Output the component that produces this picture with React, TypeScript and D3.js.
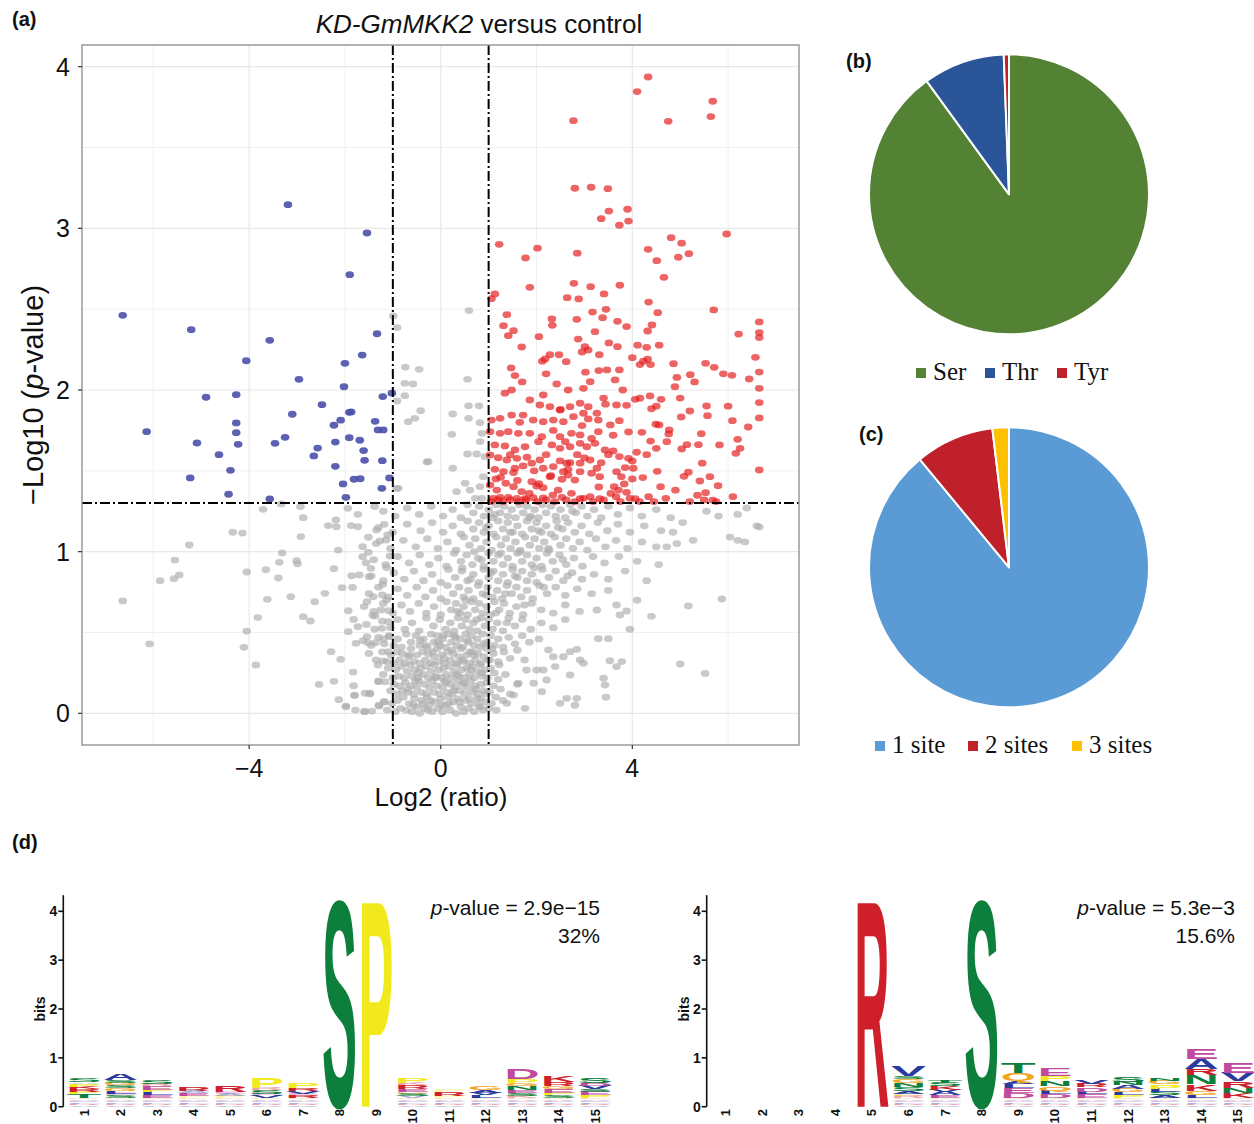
import React from 'react';
import * as d3 from 'd3';

// ---------------- Volcano data ----------------
const X_TICKS = [-4, 0, 4];
const X_MINOR = [-6, -2, 2, 6];
const Y_TICKS = [0, 1, 2, 3, 4];
const Y_MINOR = [0.5, 1.5, 2.5, 3.5];
const FC_CUT = 1;
const P_CUT = 1.301;

const downReg: [number, number][] = [
  [-6.64, 2.462], [-5.21, 2.373], [-3.19, 3.146], [-1.54, 2.971], [-1.90, 2.713], [-3.57, 2.307],
  [-4.06, 2.181], [-2.00, 2.165], [-1.64, 2.216], [-1.33, 2.348], [-2.96, 2.066], [-2.02, 2.020],
  [-4.90, 1.955], [-4.27, 1.971], [-1.21, 1.959], [-1.02, 1.980], [-2.48, 1.909], [-3.10, 1.850],
  [-1.91, 1.862], [-1.87, 1.864], [-6.14, 1.742], [-4.27, 1.796], [-4.27, 1.736], [-2.23, 1.782],
  [-2.09, 1.813], [-1.37, 1.806], [-1.31, 1.753], [-5.09, 1.672], [-4.23, 1.664], [-3.46, 1.670],
  [-3.25, 1.707], [-2.20, 1.678], [-1.91, 1.705], [-1.69, 1.689], [-1.61, 1.625], [-1.59, 1.565],
  [-1.22, 1.563], [-4.63, 1.600], [-2.57, 1.641], [-2.65, 1.592], [-2.20, 1.528], [-4.39, 1.503],
  [-5.23, 1.456], [-1.81, 1.448], [-1.68, 1.451], [-1.07, 1.456], [-2.04, 1.419], [-4.43, 1.355],
  [-3.57, 1.326], [-1.98, 1.336], [-1.23, 1.392], [-1.20, 1.753],
];

const upReg: [number, number][] = [
  [4.33, 3.936], [4.10, 3.846], [5.68, 3.786], [5.64, 3.691], [4.75, 3.662], [2.77, 3.666],
  [2.80, 3.248], [3.14, 3.254], [3.49, 3.245], [3.51, 3.107], [3.90, 3.118], [3.35, 3.060],
  [3.73, 3.019], [3.92, 3.045], [5.97, 2.965], [4.81, 2.942], [5.03, 2.908], [4.33, 2.870],
  [4.96, 2.821], [5.18, 2.843], [4.51, 2.800], [4.66, 2.697], [1.22, 2.901], [2.02, 2.877],
  [1.77, 2.817], [2.85, 2.846], [2.78, 2.660], [3.13, 2.639], [3.74, 2.648], [3.41, 2.594],
  [1.86, 2.635], [1.13, 2.594], [1.06, 2.565], [2.64, 2.571], [2.88, 2.563], [4.34, 2.544],
  [5.70, 2.495], [3.17, 2.482], [3.45, 2.499], [3.38, 2.447], [4.53, 2.478], [1.38, 2.466],
  [2.32, 2.439], [2.84, 2.437], [3.69, 2.425], [1.31, 2.398], [2.33, 2.400], [3.88, 2.392],
  [4.41, 2.402], [6.65, 2.421], [1.52, 2.367], [1.41, 2.336], [2.05, 2.330], [3.22, 2.361],
  [4.32, 2.365], [6.22, 2.346], [6.65, 2.355], [6.65, 2.324], [2.87, 2.315], [1.69, 2.266],
  [3.01, 2.268], [2.95, 2.235], [3.08, 2.247], [3.51, 2.291], [3.69, 2.268], [4.11, 2.277],
  [4.30, 2.264], [4.56, 2.277], [3.31, 2.218], [2.28, 2.218], [2.47, 2.218], [2.18, 2.192],
  [2.12, 2.178], [2.62, 2.175], [4.23, 2.178], [4.32, 2.190], [4.16, 2.157], [4.38, 2.157],
  [4.86, 2.163], [5.53, 2.165], [5.71, 2.140], [6.57, 2.202], [1.47, 2.136], [3.02, 2.110],
  [3.47, 2.124], [3.73, 2.124], [6.65, 2.111], [1.55, 2.089], [5.21, 2.095], [4.93, 2.078],
  [6.08, 2.091], [6.44, 2.068],
  [6.65, 2.010], [6.65, 1.922], [6.65, 1.827], [6.65, 1.505], [6.42, 1.771], [6.09, 1.810],
  [6.20, 1.695], [6.25, 1.639], [6.16, 1.608], [5.82, 1.660], [5.55, 1.901], [5.57, 1.841],
  [5.20, 1.870], [5.02, 1.833], [5.44, 1.730], [5.38, 1.662], [5.14, 1.662], [5.03, 1.635],
  [5.46, 1.547], [5.17, 1.491], [5.08, 1.466], [5.62, 1.464], [5.41, 1.437], [5.79, 1.408],
  [5.36, 1.349], [5.53, 1.365], [5.68, 1.318], [4.77, 1.753], [4.76, 1.728], [4.72, 1.680],
  [4.49, 1.788], [4.56, 1.784], [4.40, 1.884], [4.60, 1.942], [4.37, 1.963], [4.06, 1.942],
  [4.20, 1.738], [4.38, 1.684], [4.50, 1.639], [4.09, 1.615], [4.02, 1.516], [4.22, 1.458],
  [4.52, 1.497], [4.59, 1.402], [4.34, 1.340], [4.06, 1.328], [3.88, 1.905], [3.67, 1.907],
  [3.44, 1.912], [3.73, 1.810], [3.92, 1.740], [3.54, 1.784], [3.29, 1.814], [3.08, 1.821],
  [3.60, 1.623], [3.73, 1.588], [3.92, 1.577], [4.00, 1.561], [3.67, 1.495], [3.77, 1.464],
  [3.62, 1.402], [3.71, 1.381], [3.83, 1.419], [3.88, 1.367], [3.66, 1.340], [3.32, 1.328],
  [3.12, 1.340], [2.91, 1.328], [2.73, 1.361], [2.53, 1.336], [2.34, 1.350], [2.14, 1.332],
  [1.93, 1.334], [1.76, 1.328], [1.59, 1.330], [1.41, 1.336], [1.24, 1.336], [1.10, 1.330],
  [1.03, 1.412], [1.17, 1.381], [1.36, 1.423], [1.52, 1.402], [1.69, 1.371], [1.90, 1.433],
  [2.00, 1.406], [2.14, 1.396], [2.28, 1.464], [2.53, 1.448], [2.66, 1.474], [2.80, 1.443],
  [2.91, 1.495], [3.15, 1.485], [3.32, 1.464], [2.56, 1.495], [2.49, 1.561], [2.63, 1.547],
  [2.66, 1.509], [2.35, 1.526], [2.14, 1.516], [2.07, 1.567], [1.90, 1.547], [1.72, 1.530],
  [1.55, 1.516], [1.52, 1.489], [1.31, 1.495], [1.13, 1.509], [1.03, 1.598], [1.20, 1.581],
  [1.38, 1.567], [1.59, 1.577], [1.80, 1.584], [1.13, 1.660], [1.34, 1.654], [1.55, 1.629],
  [1.76, 1.649], [2.04, 1.680], [2.32, 1.660], [2.49, 1.639], [2.70, 1.649], [2.91, 1.670],
  [3.05, 1.649], [3.22, 1.670], [3.43, 1.629], [3.12, 1.567], [3.26, 1.516], [2.91, 1.547],
  [1.03, 1.742], [1.24, 1.732], [1.41, 1.742], [1.62, 1.732], [1.86, 1.732], [2.11, 1.711],
  [2.49, 1.711], [2.73, 1.732], [2.91, 1.722], [3.29, 1.742], [1.06, 1.814], [1.24, 1.825],
  [1.48, 1.845], [1.72, 1.845], [1.93, 1.814], [2.14, 1.804], [2.35, 1.814], [2.56, 1.804],
  [2.77, 1.835], [2.98, 1.856], [3.26, 1.856], [2.07, 1.907], [2.28, 1.897], [2.49, 1.876],
  [2.70, 1.897], [2.91, 1.918], [3.08, 1.897], [1.34, 1.980], [1.48, 2.000], [1.86, 1.938],
  [2.14, 1.969], [2.42, 2.037], [2.66, 2.000], [2.98, 2.010], [3.12, 2.051], [3.64, 2.062],
  [4.16, 1.949], [4.89, 2.020],
  [1.05, 1.31], [1.20, 1.32], [1.30, 1.31], [1.45, 1.32], [1.62, 1.31], [1.78, 1.32], [1.85, 1.36],
  [2.02, 1.31], [2.20, 1.32], [2.38, 1.31], [2.45, 1.38], [2.62, 1.32], [2.80, 1.31], [2.98, 1.33],
  [3.18, 1.31], [3.40, 1.32], [3.55, 1.36], [3.75, 1.31], [3.95, 1.33], [4.15, 1.31], [4.45, 1.31],
  [4.70, 1.33], [4.90, 1.38], [5.20, 1.31], [5.50, 1.32], [5.75, 1.31], [6.10, 1.34],
  [1.25, 1.46], [1.60, 1.44], [1.95, 1.50], [2.30, 1.47], [2.70, 1.55], [2.85, 1.60], [3.00, 1.58],
  [3.35, 1.55], [3.50, 1.60], [3.85, 1.52], [2.20, 1.60], [1.45, 1.60], [2.60, 1.68], [3.15, 1.70],
  [3.60, 1.72], [2.95, 1.78], [2.35, 1.75], [1.65, 1.80], [4.30, 1.60], [4.00, 1.45], [3.30, 1.40],
  [2.05, 1.42], [1.15, 1.45], [2.50, 1.88], [3.40, 1.95], [3.80, 2.00], [4.50, 1.90], [1.70, 2.05],
  [2.20, 2.10], [3.30, 2.12], [4.00, 2.20], [5.00, 1.95], [5.30, 2.05], [5.90, 2.10], [6.00, 1.90],
];

const notSig: [number, number][] = [
  // left sparse arm
  [-6.64, 0.695], [-6.08, 0.429], [-5.86, 0.820], [-5.57, 0.833], [-5.46, 0.856], [-5.55, 0.948],
  [-5.25, 1.041], [-4.34, 1.120], [-4.14, 1.115], [-4.05, 0.874], [-4.05, 0.509], [-4.11, 0.408],
  [-3.86, 0.299], [-3.82, 0.592], [-3.62, 0.705], [-3.65, 0.888], [-3.71, 1.262], [-3.39, 0.837],
  [-3.37, 0.934], [-3.31, 0.992], [-3.33, 1.295], [-3.13, 0.721], [-3.01, 0.944], [-2.99, 0.925],
  [-2.92, 1.093], [-2.93, 1.278], [-2.87, 1.210], [-2.87, 0.598], [-2.72, 0.571], [-2.63, 0.690],
  [-2.54, 0.179], [-2.42, 0.742], [-2.35, 1.161], [-2.23, 0.198], [-2.23, 0.895], [-2.19, 1.196],
  [-2.18, 1.154], [-2.29, 0.381], [-2.14, 1.010], [-2.13, 0.084], [-2.09, 0.334], [-2.06, 0.777],
  [-1.98, 0.045], [-1.94, 1.268], [-1.93, 0.635], [-1.93, 0.505], [-1.87, 1.161], [-1.86, 0.851],
  [-1.84, 0.779], [-1.82, 0.581], [-1.83, 0.255], [-1.82, 0.171], [-1.80, 0.113], [-1.78, 0.020],
  [-1.77, 0.433], [-1.73, 1.231], [-1.73, 0.536], [-1.73, 1.154], [-1.70, 0.856], [-1.63, 1.031],
  [-1.63, 0.969], [-1.59, 0.012], [-1.58, 0.124], [-1.56, 0.932], [-1.54, 0.690], [-1.54, 0.474],
  [-1.52, 0.437], [-1.51, 1.089], [-1.51, 0.996], [-1.50, 0.845], [-1.48, 0.124], [-1.46, 0.897],
  [-1.44, 0.014], [-1.42, 0.606], [-1.41, 0.721], [-1.38, 1.278], [-1.37, 0.602], [-1.36, 0.437],
  [-1.34, 1.134], [-1.31, 0.299], [-1.30, 0.196], [-1.29, 0.045], [-1.27, 1.066], [-1.25, 0.639],
  [-1.23, 0.526], [-1.22, 0.732], [-1.21, 0.798], [-1.20, 0.460], [-1.20, 0.324], [-1.18, 1.169],
  [-1.18, 0.072], [-1.16, 0.196], [-1.14, 1.072], [-1.13, 0.901], [-1.13, 0.701], [-1.11, 1.103],
  [-1.09, 0.567], [-1.09, 0.381], [-1.09, 0.635], [-1.07, 0.474], [-1.06, 0.973],
  // above threshold but small fold change
  [-0.91, 1.932], [-0.75, 1.965], [-0.68, 1.804], [-0.54, 1.825], [-0.89, 1.392], [-0.75, 2.041],
  [-0.99, 2.458], [-0.91, 2.386], [-0.74, 2.142], [-0.45, 2.128], [0.59, 2.491], [0.56, 2.066],
  [-0.58, 2.037], [-0.42, 1.872], [0.25, 1.852], [0.58, 1.902], [0.80, 1.902], [0.58, 1.825],
  [0.82, 1.798], [0.23, 1.726], [0.86, 1.732], [-0.26, 1.557], [0.25, 1.516], [0.56, 1.604],
  [0.82, 1.681], [0.75, 1.604], [-0.92, 1.392], [0.82, 1.402], [0.61, 1.381], [0.33, 1.371],
  [0.86, 1.330], [0.72, 1.330], [0.51, 1.423], [0.89, 1.464], [0.92, 1.588], [-0.29, 1.555],
  // right sparse arm
  [2.49, 0.062], [2.63, 0.093], [2.84, 0.093], [1.76, 0.031], [1.94, 0.186], [2.11, 0.134],
  [2.00, 0.268], [2.21, 0.206], [2.39, 0.289], [2.70, 0.237], [2.98, 0.310], [3.40, 0.217],
  [3.43, 0.175], [3.53, 0.325], [3.67, 0.289], [3.78, 0.320], [5.00, 0.305], [5.52, 0.247],
  [5.87, 0.707], [5.17, 0.664], [3.88, 0.633], [3.67, 0.670], [3.74, 0.608], [3.26, 0.639],
  [3.50, 0.462], [3.29, 0.462], [2.84, 0.396], [2.91, 0.330], [2.70, 0.381], [2.56, 0.350],
  [2.35, 0.350], [2.25, 0.392], [2.14, 0.268], [1.79, 0.268], [1.62, 0.186], [1.52, 0.113],
  [1.38, 0.062], [2.80, 0.050], [3.45, 0.100], [6.65, 1.152], [6.04, 1.090], [6.35, 1.060],
  [5.27, 1.070], [4.93, 1.050], [4.72, 1.030], [5.55, 1.250], [6.39, 1.270], [6.60, 1.160],
  [6.20, 1.070], [4.30, 0.820], [4.55, 0.920], [4.10, 0.700], [4.40, 0.600], [3.95, 0.520],
  [4.85, 1.120], [5.05, 1.180], [5.80, 1.220], [6.20, 1.230],
  // dense cloud, bottom to top
  [-1.98, 0.04], [-1.80, 0.11], [-1.59, 0.01], [-1.48, 0.12], [-1.29, 0.05], [-1.18, 0.07],
  [-1.12, 0.02], [-1.02, 0.06], [-0.95, 0.01], [-0.90, 0.08], [-0.84, 0.03], [-0.78, 0.10],
  [-0.72, 0.02], [-0.66, 0.06], [-0.60, 0.01], [-0.55, 0.09], [-0.50, 0.04], [-0.44, 0.00],
  [-0.40, 0.08], [-0.34, 0.03], [-0.28, 0.10], [-0.24, 0.05], [-0.18, 0.01], [-0.12, 0.07],
  [-0.06, 0.03], [0.00, 0.09], [0.04, 0.01], [0.10, 0.05], [0.16, 0.10], [0.20, 0.02],
  [0.26, 0.07], [0.32, 0.00], [0.36, 0.09], [0.42, 0.04], [0.48, 0.01], [0.52, 0.08],
  [0.58, 0.03], [0.64, 0.06], [0.70, 0.01], [0.76, 0.09], [0.82, 0.04], [0.88, 0.02],
  [0.94, 0.07], [1.00, 0.03], [1.06, 0.06], [1.16, 0.02], [1.30, 0.08],
  [-1.30, 0.20], [-1.05, 0.14], [-0.98, 0.18], [-0.92, 0.12], [-0.86, 0.17], [-0.80, 0.14],
  [-0.74, 0.19], [-0.68, 0.13], [-0.62, 0.17], [-0.56, 0.12], [-0.50, 0.16], [-0.46, 0.20],
  [-0.40, 0.13], [-0.34, 0.18], [-0.30, 0.12], [-0.24, 0.16], [-0.18, 0.20], [-0.14, 0.13],
  [-0.08, 0.17], [-0.02, 0.12], [0.04, 0.16], [0.08, 0.20], [0.14, 0.13], [0.20, 0.18],
  [0.24, 0.12], [0.30, 0.16], [0.36, 0.20], [0.40, 0.14], [0.46, 0.18], [0.50, 0.12],
  [0.56, 0.16], [0.62, 0.20], [0.66, 0.13], [0.72, 0.17], [0.78, 0.12], [0.84, 0.18],
  [0.90, 0.14], [0.96, 0.19], [1.02, 0.13], [1.10, 0.17], [1.25, 0.15], [1.45, 0.12], [1.60, 0.18],
  [-1.20, 0.24], [-1.10, 0.28], [-1.00, 0.22], [-0.94, 0.27], [-0.88, 0.23], [-0.82, 0.29],
  [-0.76, 0.22], [-0.70, 0.26], [-0.64, 0.30], [-0.60, 0.23], [-0.54, 0.27], [-0.48, 0.22],
  [-0.42, 0.28], [-0.36, 0.24], [-0.30, 0.29], [-0.26, 0.22], [-0.20, 0.26], [-0.14, 0.30],
  [-0.10, 0.23], [-0.04, 0.27], [0.02, 0.22], [0.06, 0.28], [0.12, 0.24], [0.18, 0.29],
  [0.22, 0.22], [0.28, 0.26], [0.34, 0.30], [0.38, 0.23], [0.44, 0.27], [0.50, 0.22],
  [0.54, 0.28], [0.60, 0.24], [0.66, 0.29], [0.70, 0.22], [0.76, 0.26], [0.82, 0.30],
  [0.86, 0.23], [0.92, 0.27], [0.98, 0.22], [1.04, 0.28], [1.12, 0.25], [1.22, 0.30], [1.35, 0.24],
  [-1.50, 0.37], [-1.35, 0.33], [-1.22, 0.38], [-1.12, 0.32], [-1.04, 0.36], [-0.98, 0.31],
  [-0.92, 0.38], [-0.86, 0.33], [-0.80, 0.37], [-0.74, 0.31], [-0.68, 0.35], [-0.62, 0.40],
  [-0.56, 0.32], [-0.50, 0.36], [-0.44, 0.31], [-0.38, 0.38], [-0.32, 0.33], [-0.26, 0.37],
  [-0.20, 0.31], [-0.14, 0.35], [-0.08, 0.40], [-0.04, 0.32], [0.02, 0.36], [0.08, 0.31],
  [0.14, 0.38], [0.20, 0.33], [0.26, 0.37], [0.32, 0.31], [0.38, 0.35], [0.42, 0.40],
  [0.48, 0.32], [0.54, 0.36], [0.60, 0.31], [0.66, 0.38], [0.72, 0.33], [0.78, 0.37],
  [0.84, 0.31], [0.90, 0.35], [0.96, 0.40], [1.02, 0.33], [1.10, 0.37], [1.20, 0.32],
  [1.32, 0.38], [1.45, 0.34], [1.60, 0.39], [1.75, 0.33],
  [-1.62, 0.45], [-1.45, 0.42], [-1.30, 0.47], [-1.18, 0.43], [-1.08, 0.48], [-0.98, 0.42],
  [-0.90, 0.46], [-0.82, 0.41], [-0.72, 0.49], [-0.62, 0.44], [-0.52, 0.48], [-0.44, 0.42],
  [-0.36, 0.46], [-0.28, 0.41], [-0.20, 0.49], [-0.14, 0.44], [-0.08, 0.48], [-0.02, 0.42],
  [0.04, 0.46], [0.10, 0.41], [0.16, 0.49], [0.22, 0.44], [0.28, 0.48], [0.34, 0.42],
  [0.40, 0.46], [0.46, 0.41], [0.52, 0.49], [0.58, 0.44], [0.64, 0.48], [0.70, 0.42],
  [0.76, 0.46], [0.82, 0.41], [0.88, 0.49], [0.96, 0.44], [1.04, 0.48], [1.12, 0.42],
  [1.20, 0.46], [1.30, 0.41], [1.42, 0.47], [1.55, 0.43], [1.70, 0.48], [1.85, 0.44], [2.05, 0.46],
  [-1.55, 0.55], [-1.38, 0.52], [-1.22, 0.57], [-1.05, 0.53], [-0.90, 0.58], [-0.75, 0.52],
  [-0.60, 0.56], [-0.45, 0.51], [-0.30, 0.59], [-0.15, 0.54], [-0.02, 0.58], [0.10, 0.52],
  [0.20, 0.56], [0.28, 0.51], [0.36, 0.59], [0.44, 0.54], [0.52, 0.58], [0.60, 0.52],
  [0.68, 0.56], [0.76, 0.51], [0.84, 0.59], [0.92, 0.54], [1.00, 0.58], [1.08, 0.52],
  [1.18, 0.56], [1.30, 0.51], [1.42, 0.59], [1.55, 0.54], [1.70, 0.58], [1.88, 0.52],
  [2.10, 0.56], [2.35, 0.53], [2.60, 0.58],
  [-1.60, 0.66], [-1.40, 0.63], [-1.20, 0.68], [-1.00, 0.62], [-0.82, 0.67], [-0.64, 0.63],
  [-0.46, 0.68], [-0.30, 0.62], [-0.14, 0.66], [0.00, 0.61], [0.12, 0.69], [0.22, 0.64],
  [0.32, 0.68], [0.40, 0.62], [0.48, 0.66], [0.56, 0.61], [0.64, 0.69], [0.72, 0.64],
  [0.80, 0.68], [0.88, 0.62], [0.96, 0.66], [1.04, 0.61], [1.12, 0.69], [1.22, 0.64],
  [1.32, 0.68], [1.44, 0.62], [1.58, 0.66], [1.72, 0.61], [1.90, 0.68], [2.10, 0.64],
  [2.35, 0.62], [2.60, 0.67], [2.90, 0.63],
  [-1.50, 0.74], [-1.30, 0.78], [-1.10, 0.72], [-0.90, 0.77], [-0.70, 0.73], [-0.50, 0.78],
  [-0.32, 0.72], [-0.16, 0.76], [0.00, 0.71], [0.14, 0.79], [0.26, 0.74], [0.38, 0.78],
  [0.48, 0.72], [0.58, 0.76], [0.68, 0.71], [0.78, 0.79], [0.88, 0.74], [0.98, 0.78],
  [1.08, 0.72], [1.18, 0.76], [1.28, 0.71], [1.38, 0.79], [1.48, 0.74], [1.58, 0.78],
  [1.68, 0.72], [1.80, 0.76], [1.92, 0.71], [2.06, 0.79], [2.22, 0.74], [2.40, 0.78],
  [2.60, 0.73], [2.85, 0.77], [3.15, 0.74], [3.50, 0.76],
  [-1.45, 0.85], [-1.20, 0.82], [-0.98, 0.87], [-0.76, 0.83], [-0.56, 0.88], [-0.36, 0.82],
  [-0.18, 0.86], [0.00, 0.81], [0.16, 0.89], [0.30, 0.84], [0.44, 0.88], [0.56, 0.82],
  [0.68, 0.86], [0.80, 0.81], [0.90, 0.89], [1.00, 0.84], [1.10, 0.88], [1.20, 0.82],
  [1.30, 0.86], [1.40, 0.81], [1.50, 0.89], [1.60, 0.84], [1.70, 0.88], [1.80, 0.82],
  [1.90, 0.86], [2.00, 0.81], [2.12, 0.89], [2.26, 0.84], [2.40, 0.88], [2.56, 0.82],
  [2.74, 0.87], [2.95, 0.83], [3.20, 0.86], [3.50, 0.83], [3.85, 0.88],
  [-1.40, 0.95], [-1.15, 0.92], [-0.90, 0.97], [-0.66, 0.93], [-0.44, 0.98], [-0.24, 0.92],
  [-0.05, 0.96], [0.12, 0.91], [0.28, 0.99], [0.42, 0.94], [0.54, 0.98], [0.66, 0.92],
  [0.78, 0.96], [0.90, 0.91], [1.00, 0.99], [1.10, 0.94], [1.20, 0.98], [1.30, 0.92],
  [1.40, 0.96], [1.50, 0.91], [1.60, 0.99], [1.70, 0.94], [1.80, 0.98], [1.90, 0.92],
  [2.00, 0.96], [2.10, 0.91], [2.22, 0.99], [2.34, 0.94], [2.48, 0.98], [2.62, 0.92],
  [2.78, 0.96], [2.96, 0.91], [3.18, 0.97], [3.42, 0.93], [3.72, 0.97], [4.10, 0.94],
  [-1.35, 1.05], [-1.05, 1.02], [-0.78, 1.07], [-0.52, 1.03], [-0.28, 1.08], [-0.06, 1.02],
  [0.14, 1.06], [0.32, 1.01], [0.48, 1.09], [0.60, 1.04], [0.72, 1.08], [0.84, 1.02],
  [0.96, 1.06], [1.06, 1.01], [1.16, 1.09], [1.26, 1.04], [1.36, 1.08], [1.46, 1.02],
  [1.56, 1.06], [1.66, 1.01], [1.76, 1.09], [1.86, 1.04], [1.96, 1.08], [2.06, 1.02],
  [2.16, 1.06], [2.26, 1.01], [2.38, 1.09], [2.50, 1.04], [2.62, 1.08], [2.76, 1.02],
  [2.90, 1.06], [3.06, 1.01], [3.24, 1.08], [3.44, 1.03], [3.66, 1.07], [3.90, 1.02],
  [4.20, 1.06], [4.50, 1.03],
  [-1.30, 1.15], [-1.00, 1.12], [-0.70, 1.17], [-0.42, 1.13], [-0.18, 1.18], [0.05, 1.12],
  [0.25, 1.16], [0.42, 1.11], [0.56, 1.19], [0.68, 1.14], [0.80, 1.18], [0.90, 1.12],
  [1.00, 1.16], [1.10, 1.11], [1.20, 1.19], [1.30, 1.14], [1.40, 1.18], [1.50, 1.12],
  [1.60, 1.16], [1.70, 1.11], [1.80, 1.19], [1.90, 1.14], [2.00, 1.18], [2.10, 1.12],
  [2.20, 1.16], [2.30, 1.11], [2.42, 1.19], [2.54, 1.14], [2.66, 1.18], [2.80, 1.12],
  [2.94, 1.16], [3.10, 1.11], [3.28, 1.18], [3.48, 1.13], [3.70, 1.17], [3.95, 1.12],
  [4.25, 1.16], [4.60, 1.13],
  [-1.20, 1.25], [-0.95, 1.22], [-0.70, 1.27], [-0.45, 1.23], [-0.20, 1.28], [0.05, 1.22],
  [0.25, 1.26], [0.42, 1.21], [0.56, 1.29], [0.68, 1.24], [0.80, 1.28], [0.90, 1.22],
  [1.00, 1.26], [1.08, 1.21], [1.16, 1.29], [1.24, 1.24], [1.32, 1.28], [1.40, 1.22],
  [1.48, 1.26], [1.56, 1.21], [1.64, 1.29], [1.72, 1.24], [1.80, 1.28], [1.88, 1.22],
  [1.96, 1.26], [2.04, 1.21], [2.12, 1.29], [2.20, 1.24], [2.30, 1.28], [2.40, 1.22],
  [2.50, 1.26], [2.60, 1.21], [2.70, 1.29], [2.82, 1.24], [2.94, 1.28], [3.06, 1.22],
  [3.20, 1.26], [3.35, 1.21], [3.50, 1.28], [3.70, 1.23], [3.95, 1.27], [4.20, 1.22],
  [4.50, 1.26], [4.80, 1.21],
  // extra core and right-arm points
  [-0.69, 0.15], [-0.57, 0.05], [-0.47, 0.25], [-0.37, 0.06], [-0.31, 0.42], [-0.21, 0.08],
  [-0.11, 0.22], [-0.05, 0.44], [0.01, 0.05], [0.07, 0.34], [0.11, 0.19], [0.17, 0.06],
  [0.23, 0.39], [0.27, 0.14], [0.33, 0.24], [0.39, 0.07], [0.45, 0.33], [0.49, 0.19],
  [0.55, 0.45], [0.59, 0.09], [0.63, 0.27], [0.69, 0.36], [0.73, 0.15], [0.79, 0.05],
  [0.85, 0.25], [0.89, 0.43], [0.95, 0.12], [0.99, 0.33], [-0.65, 0.36], [-0.53, 0.20],
  [-0.43, 0.45], [-0.27, 0.02], [-0.17, 0.38], [0.05, 0.48], [0.31, 0.47], [0.61, 0.38],
  [0.83, 0.09], [1.07, 0.40], [1.15, 0.10], [1.20, 0.21],
  [0.35, 0.63], [0.52, 0.70], [0.62, 0.83], [0.75, 0.58], [0.85, 0.95], [0.95, 0.73],
  [1.05, 0.87], [1.15, 0.62], [1.25, 0.99], [1.35, 0.74], [1.45, 1.12], [1.55, 0.85],
  [1.65, 1.00], [1.75, 0.67], [1.85, 1.21], [1.95, 0.90], [2.05, 1.13], [2.15, 0.78],
  [2.25, 1.02], [2.45, 1.15], [2.55, 0.95], [2.75, 1.25], [2.65, 0.85], [1.12, 1.23],
  [1.38, 0.56], [0.45, 0.90], [0.70, 1.00], [0.95, 1.15],
];

// ---------------- Pie data ----------------
const residueCats = ['Ser', 'Thr', 'Tyr'];
const residueVals = [90.0, 9.4, 0.6];
const residueColors = ['#548235', '#2a5699', '#c0202a'];

const siteCats = ['1 site', '2 sites', '3 sites'];
const siteVals = [89.0, 9.1, 1.9];
const siteColors = ['#5b9bd5', '#c0202a', '#ffc000'];

// ---------------- Logo data ----------------
const logoPositions = d3.range(1, 16);
const bitTicks = [0, 1, 2, 3, 4];
type Stack = [string, number][];

const tinyBase: Stack = [['V', .03], ['R', .03], ['L', .03], ['E', .03], ['A', .03], ['G', .03]];

const motif1: Stack[] = [
  [...tinyBase, ['T', .07], ['P', .06], ['R', .05], ['K', .05], ['P', .06], ['A', .03], ['S', .08]],
  [...tinyBase, ['S', .05], ['E', .04], ['L', .05], ['G', .06], ['S', .06], ['G', .05], ['S', .06], ['A', .12]],
  [...tinyBase, ['E', .05], ['L', .07], ['P', .05], ['E', .07], ['R', .04], ['S', .08]],
  [...tinyBase, ['P', .04], ['E', .06], ['A', .04], ['R', .08]],
  [...tinyBase, ['P', .04], ['A', .04], ['E', .04], ['R', .12]],
  [...tinyBase, ['V', .05], ['E', .04], ['S', .08], ['R', .04], ['P', .20]],
  [...tinyBase, ['R', .05], ['E', .04], ['V', .05], ['R', .06], ['P', .10]],
  [['S', 4.3]],
  [['P', 4.3]],
  [...tinyBase, ['V', .04], ['S', .05], ['G', .04], ['E', .06], ['R', .08], ['K', .04], ['P', .10]],
  [...tinyBase, ['P', .04], ['R', .08], ['P', .04]],
  [...tinyBase, ['L', .05], ['V', .06], ['A', .06], ['G', .08]],
  [...tinyBase, ['K', .04], ['S', .06], ['E', .06], ['N', .08], ['G', .06], ['P', .08], ['D', .22]],
  [...tinyBase, ['S', .05], ['P', .06], ['E', .07], ['G', .06], ['R', .08], ['K', .12]],
  [...tinyBase, ['P', .05], ['E', .07], ['S', .06], ['V', .07], ['D', .06], ['S', .10]],
];

const motif2: Stack[] = [
  [], [], [], [],
  [['R', 4.3]],
  [...tinyBase, ['R', .04], ['P', .04], ['A', .06], ['S', .08], ['N', .09], ['G', .08], ['S', .06], ['V', .22]],
  [...tinyBase, ['E', .05], ['A', .07], ['V', .05], ['K', .07], ['S', .07], ['T', .06]],
  [['S', 4.3]],
  [...tinyBase, ['D', .10], ['E', .10], ['L', .09], ['A', .05], ['Q', .16], ['T', .20]],
  [...tinyBase, ['D', .08], ['L', .07], ['Q', .09], ['N', .10], ['P', .10], ['E', .16]],
  [...tinyBase, ['E', .07], ['L', .06], ['D', .09], ['R', .07], ['V', .07]],
  [...tinyBase, ['P', .06], ['L', .06], ['G', .07], ['A', .07], ['N', .07], ['S', .10]],
  [...tinyBase, ['A', .05], ['S', .07], ['L', .07], ['P', .09], ['G', .07], ['N', .06]],
  [...tinyBase, ['L', .06], ['G', .09], ['K', .13], ['N', .19], ['R', .13], ['A', .20], ['E', .20]],
  [...tinyBase, ['K', .10], ['N', .10], ['R', .14], ['V', .18], ['E', .20]],
];

const motif1Stats = ['2.9e\u221215', '32%'];
const motif2Stats = ['5.3e\u22123', '15.6%'];

const AA_COLOR: Record<string, string> = {
  S: '#0b7f3b', T: '#0b7f3b', N: '#0b7f3b', G: '#f3a51d', Q: '#f3a51d',
  R: '#cf1f2b', K: '#cf1f2b', H: '#cf1f2b',
  D: '#c04a9f', E: '#c04a9f',
  A: '#2b3a9e', V: '#2b3a9e', L: '#2b3a9e', I: '#2b3a9e', M: '#2b3a9e', F: '#2b3a9e',
  P: '#f2e91c', Y: '#2b3a9e', C: '#0b7f3b', W: '#2b3a9e',
};

const SANS = '"Liberation Sans", Arial, Helvetica, sans-serif';
const SERIF = '"Liberation Serif", "Times New Roman", serif';

// ---------------- Components ----------------
function Volcano() {
  const x = d3.scaleLinear().domain([-7.49, 7.48]).range([82, 799]);
  const y = d3.scaleLinear().domain([-0.196, 4.134]).range([745, 45]);
  const [x0, x1] = x.range();
  const [yb, yt] = y.range();
  const dash = '10,3,2,3';
  const dot = (d: [number, number], i: number, fill: string, op: number) => (
    <ellipse key={i} cx={x(d[0])} cy={y(d[1])} rx={4.3} ry={3.4} fill={fill} fillOpacity={op} />
  );
  return (
    <g>
      <rect x={x0} y={yt} width={x1 - x0} height={yb - yt} fill="#ffffff" />
      {X_MINOR.map((v) => <line key={'xm' + v} x1={x(v)} x2={x(v)} y1={yt} y2={yb} stroke="#f0f0f0" strokeWidth={1} />)}
      {Y_MINOR.map((v) => <line key={'ym' + v} x1={x0} x2={x1} y1={y(v)} y2={y(v)} stroke="#f0f0f0" strokeWidth={1} />)}
      {X_TICKS.map((v) => <line key={'xg' + v} x1={x(v)} x2={x(v)} y1={yt} y2={yb} stroke="#e8e8e8" strokeWidth={1.2} />)}
      {Y_TICKS.map((v) => <line key={'yg' + v} x1={x0} x2={x1} y1={y(v)} y2={y(v)} stroke="#e8e8e8" strokeWidth={1.2} />)}
      <g>{notSig.map((d, i) => dot(d, i, '#adadad', 0.66))}</g>
      <g>{upReg.map((d, i) => dot(d, i, '#e41a1c', 0.68))}</g>
      <g>{downReg.map((d, i) => dot(d, i, '#4a50a8', 0.9))}</g>
      <line x1={x(-FC_CUT)} x2={x(-FC_CUT)} y1={yt} y2={yb} stroke="#000" strokeWidth={2} strokeDasharray={dash} />
      <line x1={x(FC_CUT)} x2={x(FC_CUT)} y1={yt} y2={yb} stroke="#000" strokeWidth={2} strokeDasharray={dash} />
      <line x1={x0} x2={x1} y1={y(P_CUT)} y2={y(P_CUT)} stroke="#000" strokeWidth={2} strokeDasharray={dash} />
      <rect x={x0} y={yt} width={x1 - x0} height={yb - yt} fill="none" stroke="#9a9a9a" strokeWidth={1.5} />
      {X_TICKS.map((v) => (
        <g key={'xt' + v}>
          <line x1={x(v)} x2={x(v)} y1={yb} y2={yb + 4} stroke="#333" strokeWidth={1.2} />
          <text x={x(v)} y={777} textAnchor="middle" fontSize={25} fontFamily={SANS} fill="#111">
            {v < 0 ? '\u2212' + Math.abs(v) : String(v)}
          </text>
        </g>
      ))}
      {Y_TICKS.map((v) => (
        <g key={'yt' + v}>
          <line x1={x0 - 4} x2={x0} y1={y(v)} y2={y(v)} stroke="#333" strokeWidth={1.2} />
          <text x={70} y={y(v) + 9} textAnchor="end" fontSize={25} fontFamily={SANS} fill="#111">{v}</text>
        </g>
      ))}
      <text x={479} y={33} textAnchor="middle" fontSize={26} fontFamily={SANS} fill="#111">
        <tspan fontStyle="italic">KD-GmMKK2</tspan> versus control
      </text>
      <text x={441} y={806} textAnchor="middle" fontSize={26} fontFamily={SANS} fill="#111">Log2 (ratio)</text>
      <text transform="translate(43,395) rotate(-90)" textAnchor="middle" fontSize={29} fontFamily={SANS} fill="#111">
        {'\u2212Log10 ('}<tspan fontStyle="italic">p</tspan>{'-value)'}
      </text>
    </g>
  );
}

function Pie({ cx, cy, vals, cats, colors, legendY, legendX }: {
  cx: number; cy: number; vals: number[]; cats: string[]; colors: string[]; legendY: number; legendX: number[];
}) {
  const arcs = d3.pie<number>().sort(null)(vals);
  const arc = d3.arc<d3.PieArcDatum<number>>().innerRadius(0).outerRadius(140);
  return (
    <g>
      <g transform={`translate(${cx},${cy})`}>
        {arcs.map((a, i) => (
          <path key={i} d={arc(a) || ''} fill={colors[i]} stroke="#ffffff" strokeWidth={2} strokeLinejoin="round" />
        ))}
      </g>
      {cats.map((c, i) => (
        <g key={c}>
          <rect x={legendX[i]} y={legendY - 12} width={10} height={10} fill={colors[i]} />
          <text x={legendX[i] + 17} y={legendY} fontSize={25} fontFamily={SERIF} fill="#111">{c}</text>
        </g>
      ))}
    </g>
  );
}

const CAP = 71;

function Logo({ cols, axisX, firstX, step, stats, statX }: {
  cols: Stack[]; axisX: number; firstX: number; step: number; stats: string[]; statX: number;
}) {
  const x = d3.scaleLinear().domain([1, 15]).range([firstX, firstX + 14 * step]);
  const y = d3.scaleLinear().domain([0, 4]).range([1106.7, 911.3]);
  const w = 35;
  return (
    <g>
      {cols.map((stack, ci) => {
        let cum = 0;
        const pos = logoPositions[ci];
        return (
          <g key={ci}>
            {stack.map(([L, h], li) => {
              const yB = y(cum);
              const yT = y(cum + h);
              cum += h;
              const hp = yB - yT;
              return (
                <g key={li} transform={`translate(${x(pos) - w / 2},${yB}) scale(1,${hp / CAP})`}
                  opacity={hp < 2 ? 0.4 : 1}>
                  <text x={0} y={0} fontSize={100} fontWeight="bold" fontFamily={SANS}
                    textLength={w} lengthAdjust="spacingAndGlyphs" fill={AA_COLOR[L]}>{L}</text>
                </g>
              );
            })}
          </g>
        );
      })}
      <line x1={axisX} x2={axisX} y1={y(0)} y2={y(4.33)} stroke="#111" strokeWidth={1.6} />
      {bitTicks.map((t) => (
        <g key={t}>
          <line x1={axisX - 5} x2={axisX} y1={y(t)} y2={y(t)} stroke="#111" strokeWidth={1.6} />
          <text x={axisX - 6} y={y(t) + 5} textAnchor="end" fontSize={14} fontWeight="bold" fontFamily={SANS} fill="#111">{t}</text>
        </g>
      ))}
      <text transform={`translate(${axisX - 18},${y(2)}) rotate(-90)`} textAnchor="middle" fontSize={14}
        fontWeight="bold" fontFamily={SANS} fill="#111">bits</text>
      {logoPositions.map((p) => (
        <text key={p} transform={`translate(${x(p)},1109) rotate(-90)`} textAnchor="end" dominantBaseline="central"
          fontSize={13} fontWeight="bold" fontFamily={SANS} fill="#111">{p}</text>
      ))}
      <text x={statX} y={915} textAnchor="end" fontSize={21} fontFamily={SANS} fill="#111">
        <tspan fontStyle="italic">p</tspan>{'-value = ' + stats[0]}
      </text>
      <text x={statX} y={943} textAnchor="end" fontSize={21} fontFamily={SANS} fill="#111">{stats[1]}</text>
    </g>
  );
}

export default function App() {
  return (
    <div style={{ position: 'absolute', left: 0, top: 0 }}>
      <svg width={1254} height={1124} viewBox="0 0 1254 1124" style={{ display: 'block', background: '#fff' }}>
        <rect x={0} y={0} width={1254} height={1124} fill="#fff" />
        <Volcano />
        <Pie cx={1009} cy={194.3} vals={residueVals} cats={residueCats} colors={residueColors}
          legendY={380} legendX={[916, 985, 1057]} />
        <Pie cx={1009} cy={567.3} vals={siteVals} cats={siteCats} colors={siteColors}
          legendY={753} legendX={[875, 968, 1072]} />
        <Logo cols={motif1} axisX={63.3} firstX={84} step={36.5} stats={motif1Stats} statX={600} />
        <Logo cols={motif2} axisX={706.7} firstX={725.5} step={36.6} stats={motif2Stats} statX={1235} />
        <text x={12} y={26} fontSize={20} fontWeight="bold" fontFamily={SANS} fill="#111">(a)</text>
        <text x={846} y={68} fontSize={20} fontWeight="bold" fontFamily={SANS} fill="#111">(b)</text>
        <text x={859} y={441} fontSize={20} fontWeight="bold" fontFamily={SANS} fill="#111">(c)</text>
        <text x={12} y={849} fontSize={20} fontWeight="bold" fontFamily={SANS} fill="#111">(d)</text>
      </svg>
    </div>
  );
}
